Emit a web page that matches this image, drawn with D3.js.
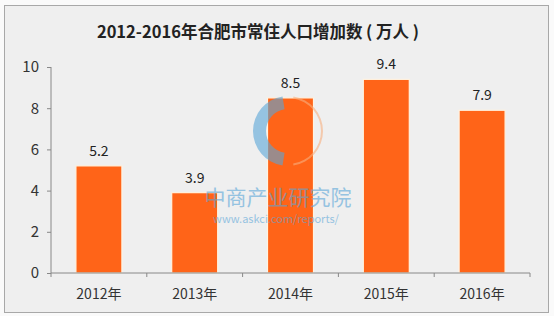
<!DOCTYPE html>
<html><head><meta charset="utf-8">
<script src="https://cdn.jsdelivr.net/npm/d3@7"></script>
<style>body{margin:0;background:#fff;}svg{display:block;}</style>
</head><body>
<script>
const title = "2012-2016年合肥市常住人口增加数 ( 万人 )";
const categories = ["2012年","2013年","2014年","2015年","2016年"];
const values = [5.2, 3.9, 8.5, 9.4, 7.9];
const yTicks = [0,2,4,6,8,10];

const W = 554, H = 316;
const svg = d3.select("body").append("svg").attr("width", W).attr("height", H);
const font = "'Noto Sans CJK SC', 'Noto Sans', sans-serif";

svg.append("rect").attr("x",0).attr("y",0).attr("width",W).attr("height",H).attr("fill","#fafafa");
svg.append("rect").attr("x",4.5).attr("y",5.5).attr("width",544).attr("height",307)
  .attr("fill","#efefef").attr("stroke","#a8a8a8").attr("stroke-width",1);

svg.append("text").attr("x",258).attr("y",38).attr("text-anchor","middle")
  .attr("font-family",font).attr("font-weight","bold").attr("font-size",16.5).attr("fill","#222")
  .text(title);

const x = d3.scaleBand().domain(categories).range([51, 530]).paddingInner(0.52).paddingOuter(0.26);
const y = d3.scaleLinear().domain([0,10]).range([273, 67]);

const bars = svg.append("g");
bars.selectAll("rect").data(values).join("rect")
  .attr("x",(d,i)=>x(categories[i])).attr("y",d=>y(d))
  .attr("width",x.bandwidth()).attr("height",d=>y(0)-y(d))
  .attr("fill","#ff6418").attr("stroke","#fff3e0").attr("stroke-width",1.2);

// watermark (on top, translucent)
const wm = svg.append("g").attr("opacity",0.6);
wm.append("path").attr("d", d3.arc()({innerRadius:22, outerRadius:35, startAngle:Math.PI*1.05, endAngle:Math.PI*1.95}))
  .attr("transform","translate(288,131)").attr("fill","#5aa6d8");
wm.append("path").attr("d", d3.arc()({innerRadius:33, outerRadius:35, startAngle:Math.PI*0.05, endAngle:Math.PI*0.95}))
  .attr("transform","translate(288,131)").attr("fill","#f8b080");
wm.append("text").attr("x",278).attr("y",205).attr("text-anchor","middle").attr("font-family",font)
  .attr("font-size",21).attr("fill","#5aa6d8").text("中商产业研究院");
wm.append("text").attr("x",276).attr("y",223).attr("text-anchor","middle").attr("font-family",font)
  .attr("font-size",11).attr("fill","#5aa6d8").text("www.askci.com/reports/");

svg.append("g").selectAll("text").data(values).join("text")
  .attr("x",(d,i)=>x(categories[i])+x.bandwidth()/2).attr("y",d=>y(d)-10)
  .attr("text-anchor","middle").attr("font-family",font).attr("font-size",14).attr("fill","#222")
  .text(d=>d.toFixed(1));

const ya = svg.append("g").attr("transform","translate(51,0)")
  .call(d3.axisLeft(y).tickValues(yTicks).tickSize(4).tickPadding(8).tickFormat(d3.format("d")));
ya.select(".domain").attr("stroke","#888").attr("d","M0,67V273");
ya.selectAll(".tick line").attr("stroke","#888");
ya.selectAll("text").attr("font-family",font).attr("font-size",15).attr("fill","#333");

const xa = svg.append("g").attr("transform","translate(0,273)")
  .call(d3.axisBottom(x).tickSize(0).tickPadding(16));
xa.select(".domain").attr("stroke","#888").attr("d","M51,0H530");
xa.selectAll("text").attr("font-family",font).attr("font-size",14).attr("fill","#333");
const step = x.step();
svg.append("g").selectAll("line").data(d3.range(categories.length+1)).join("line")
  .attr("x1",d=>51+d*step).attr("x2",d=>51+d*step).attr("y1",273).attr("y2",277)
  .attr("stroke","#888");
</script>
</body></html>
